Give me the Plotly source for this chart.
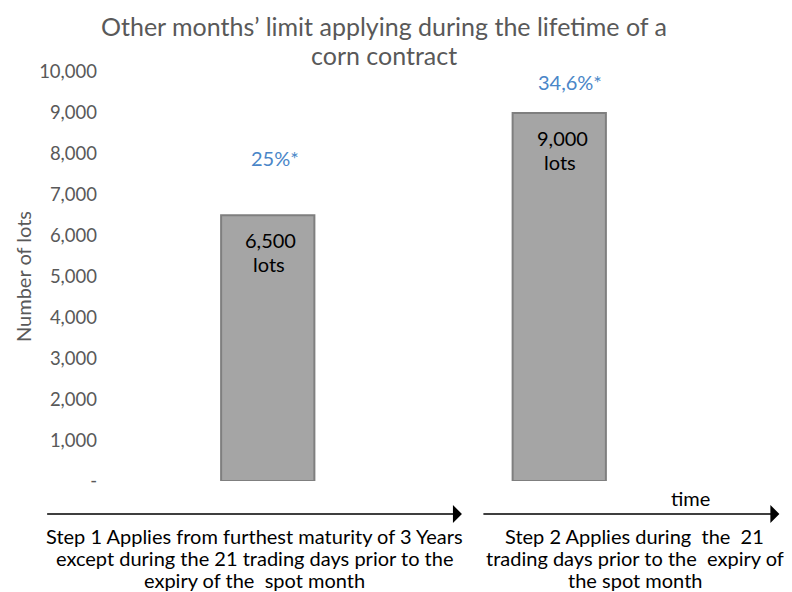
import plotly.graph_objects as go

# ---- data ----
steps = [0, 1]
lots = [6500, 9000]
unit_label = "lots"
pct_labels = ["25%*", "34,6%*"]
pct_label_y = [7900, 9750]
tick_vals = [0, 1000, 2000, 3000, 4000, 5000, 6000, 7000, 8000, 9000, 10000]
tick_text = ["-", "1,000", "2,000", "3,000", "4,000", "5,000", "6,000", "7,000", "8,000", "9,000", "10,000"]
step1_lines = [
    "Step 1 Applies from furthest maturity of 3 Years",
    "except during the 21 trading days prior to the",
    "expiry of the  spot month",
]
step2_lines = [
    "Step 2 Applies during  the  21",
    "trading days prior to the  expiry of",
    "the spot month",
]
title_lines = ["Other months\u2019 limit applying during the lifetime of a", "corn contract"]
y_title = "Number of lots"
time_label = "time"

FONT = "Lato"
GREY = "#595959"
OFF = 8  # page body margin

fig = go.Figure()
fig.add_trace(go.Bar(
    x=steps, y=lots, width=0.32,
    marker=dict(color="#a5a5a5", line=dict(color="#7f7f7f", width=2)),
    hoverinfo="skip",
))

# value labels inside bars (two lines)
for xv, v in zip(steps, lots):
    fig.add_annotation(x=xv, y=v, xref="x", yref="y", text=f"{v:,}",
                       showarrow=False, yanchor="middle", yshift=-25, xshift=3,
                       font=dict(family=FONT, size=20, color="#000000"))
    fig.add_annotation(x=xv, y=v, xref="x", yref="y", text=unit_label,
                       showarrow=False, yanchor="middle", yshift=-49, xshift=1,
                       font=dict(family=FONT, size=20, color="#000000"))
for xv, t, yv, xs in zip(steps, pct_labels, pct_label_y, [7, 11]):
    fig.add_annotation(x=xv, y=yv, xref="x", yref="y", text=t, showarrow=False,
                       xshift=xs, font=dict(family=FONT, size=20, color="#4a86c8"))

def dx(px):
    return (px - 121.5) / 584.0

def dy(py):
    return (481 - py) / 409.0

arrows = [(45, 462), (482, 780)]
for x0, x1 in arrows:
    fig.add_annotation(xref="x domain", yref="y domain", axref="x domain", ayref="y domain",
                       x=dx(x1), y=dy(514), ax=dx(x0), ay=dy(514), text="",
                       showarrow=True, arrowhead=1, arrowsize=2, arrowwidth=1.5,
                       arrowcolor="#000000", standoff=0, startstandoff=0)

fig.add_annotation(xref="x domain", yref="y domain", x=dx(691), y=dy(498), text=time_label,
                   xanchor="center", yanchor="middle",
                   showarrow=False, font=dict(family=FONT, size=20, color="#000000"))

line_ys = [536, 558, 580]
for cx, lines in zip([254, 635], [step1_lines, step2_lines]):
    for ly, t in zip(line_ys, lines):
        fig.add_annotation(xref="x domain", yref="y domain", x=dx(cx), y=dy(ly),
                           yanchor="middle", xanchor="center", text=t, showarrow=False,
                           font=dict(family=FONT, size=20, color="#000000"))

for ly, t in zip([26, 55], title_lines):
    fig.add_annotation(xref="x domain", yref="y domain", x=dx(384), y=dy(ly),
                       yanchor="middle", xanchor="center", text=t, showarrow=False,
                       font=dict(family=FONT, size=25, color=GREY))

fig.update_layout(
    width=792 - OFF, height=592 - OFF,
    margin=dict(l=121.5 - OFF, r=86.5, t=72 - OFF, b=111),
    paper_bgcolor="white", plot_bgcolor="white",
    showlegend=False,
    xaxis=dict(range=[-0.5, 1.5], showticklabels=False, showgrid=False, zeroline=False,
               showline=False, ticks=""),
    yaxis=dict(range=[0, 10000], tickvals=tick_vals, ticktext=tick_text, showgrid=False,
               zeroline=False, showline=False, ticks="", ticklabelstandoff=24,
               tickfont=dict(family=FONT, size=18.5, color=GREY),
               title=dict(text=y_title, font=dict(family=FONT, size=20, color=GREY),
                          standoff=2)),
    font=dict(family=FONT),
)

fig.write_html("out.html")
